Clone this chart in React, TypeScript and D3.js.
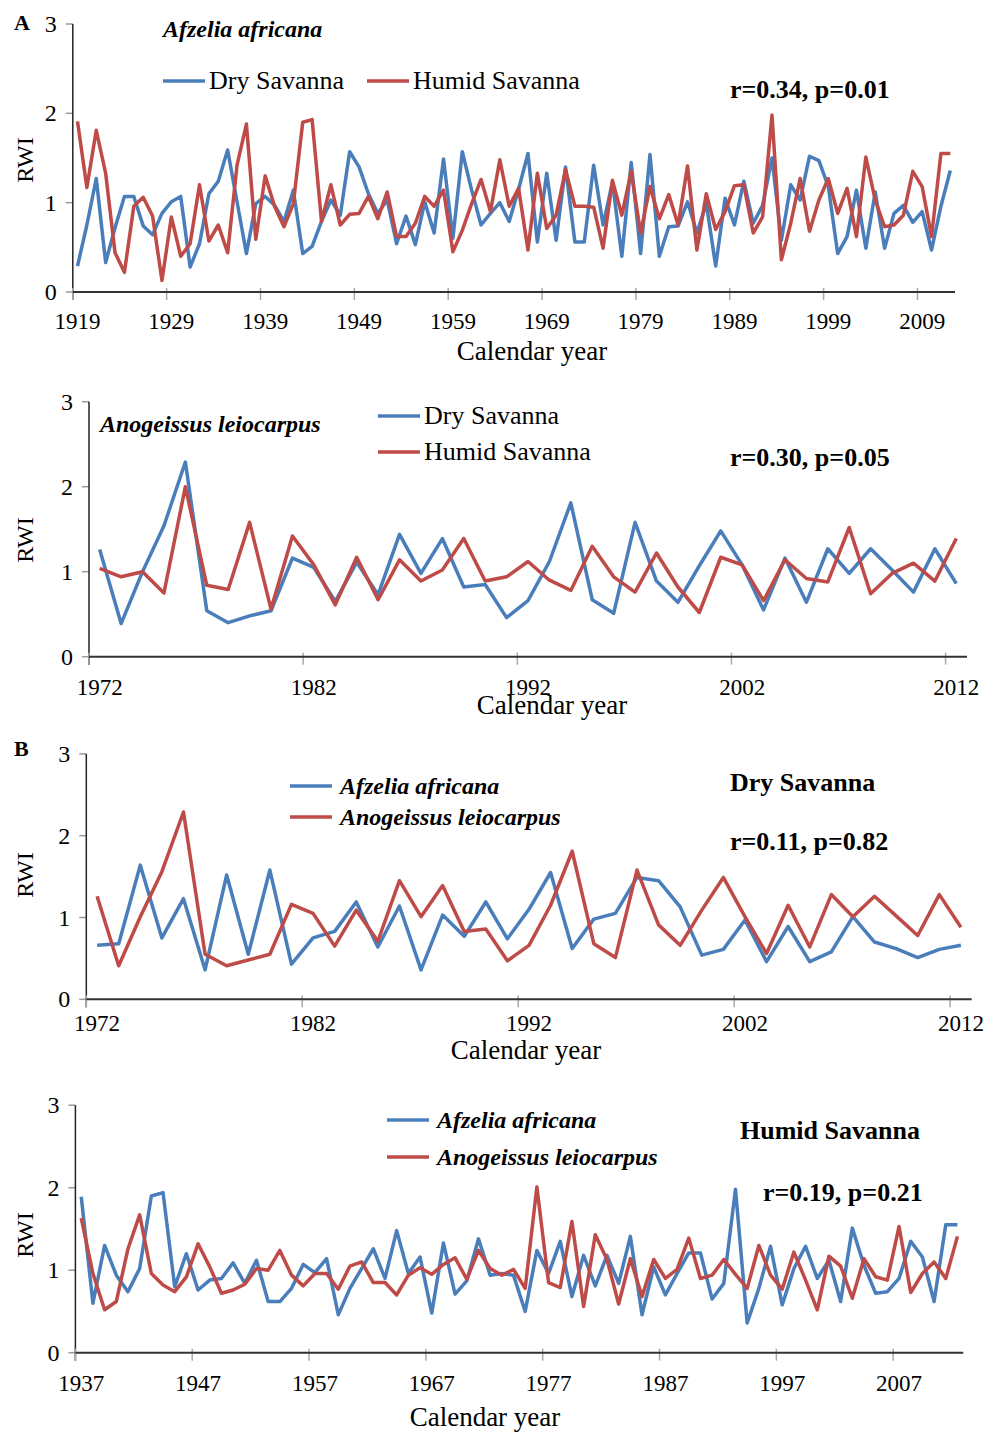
import * as d3 from "d3";

const blue = "#4a7ebb";
const red = "#be4b48";
const serif = "'Liberation Serif', 'Times New Roman', serif";

// A: Afzelia africana, 1919-2012
const afzDry1919 = [
  0.29, 0.75, 1.27, 0.33, 0.72, 1.07, 1.07, 0.74, 0.64, 0.88, 1.01, 1.07, 0.28, 0.54, 1.10, 1.24, 1.59, 1.01, 0.43, 0.99,
  1.07, 0.97, 0.79, 1.14, 0.43, 0.51, 0.79, 1.03, 0.86, 1.57, 1.40, 1.10, 0.88, 1.03, 0.54, 0.85, 0.53, 1.01, 0.66, 1.49,
  0.60, 1.57, 1.14, 0.75, 0.88, 1.00, 0.79, 1.15, 1.55, 0.56, 1.33, 0.58, 1.40, 0.56, 0.56, 1.42, 0.75, 1.23, 0.40, 1.45,
  0.43, 1.54, 0.40, 0.73, 0.74, 1.01, 0.66, 0.99, 0.29, 1.05, 0.75, 1.24, 0.77, 0.97, 1.50, 0.58, 1.20, 1.03, 1.52, 1.47,
  1.18, 0.43, 0.62, 1.14, 0.49, 1.12, 0.49, 0.88, 0.97, 0.78, 0.90, 0.47, 0.96, 1.36,
];
const afzHum1919 = [
  1.91, 1.17, 1.81, 1.33, 0.44, 0.22, 0.96, 1.06, 0.85, 0.13, 0.84, 0.40, 0.54, 1.20, 0.57, 0.75, 0.44, 1.42, 1.88, 0.59,
  1.30, 0.96, 0.73, 0.99, 1.90, 1.93, 0.79, 1.20, 0.75, 0.87, 0.88, 1.07, 0.82, 1.12, 0.62, 0.62, 0.77, 1.07, 0.96, 1.14,
  0.45, 0.69, 0.99, 1.26, 0.90, 1.48, 0.96, 1.16, 0.47, 1.33, 0.71, 0.86, 1.37, 0.96, 0.96, 0.95, 0.49, 1.25, 0.86, 1.35,
  0.66, 1.18, 0.82, 1.09, 0.75, 1.41, 0.47, 1.10, 0.70, 0.90, 1.19, 1.20, 0.66, 0.84, 1.98, 0.36, 0.77, 1.27, 0.68, 1.03,
  1.27, 0.88, 1.16, 0.62, 1.51, 1.03, 0.73, 0.75, 0.86, 1.35, 1.18, 0.62, 1.55, 1.55,
];

// A: Anogeissus leiocarpus, 1972-2012
const anoDry1972 = [
  1.26, 0.39, 1.00, 1.54, 2.29, 0.54, 0.40, 0.48, 0.54, 1.16, 1.05, 0.65, 1.11, 0.73, 1.44, 0.98, 1.39, 0.82, 0.85, 0.46,
  0.66, 1.12, 1.81, 0.67, 0.51, 1.58, 0.89, 0.64, 1.07, 1.48, 1.08, 0.55, 1.16, 0.64, 1.27, 0.98, 1.27, 1.02, 0.76, 1.27,
  0.86,
];
const anoHum1972 = [
  1.04, 0.94, 1.00, 0.75, 2.00, 0.84, 0.79, 1.58, 0.56, 1.42, 1.08, 0.61, 1.17, 0.67, 1.14, 0.89, 1.02, 1.39, 0.89, 0.94,
  1.12, 0.90, 0.78, 1.30, 0.94, 0.76, 1.22, 0.82, 0.52, 1.17, 1.08, 0.66, 1.14, 0.92, 0.88, 1.52, 0.74, 0.98, 1.10, 0.89,
  1.39,
];

// B: Dry Savanna, 1972-2012
const dryAfz1972 = [
  0.66, 0.68, 1.64, 0.75, 1.23, 0.36, 1.52, 0.55, 1.58, 0.43, 0.75, 0.83, 1.19, 0.64, 1.14, 0.36, 1.03, 0.77, 1.19, 0.74,
  1.10, 1.55, 0.62, 0.98, 1.05, 1.49, 1.45, 1.13, 0.54, 0.61, 0.97, 0.46, 0.89, 0.46, 0.58, 1.01, 0.70, 0.62, 0.51, 0.61,
  0.66,
];
const dryAno1972 = [
  1.26, 0.41, 1.01, 1.56, 2.29, 0.55, 0.41, 0.48, 0.55, 1.16, 1.05, 0.65, 1.09, 0.71, 1.45, 1.01, 1.39, 0.83, 0.86, 0.47,
  0.66, 1.15, 1.81, 0.68, 0.51, 1.58, 0.91, 0.66, 1.09, 1.49, 1.01, 0.56, 1.15, 0.64, 1.28, 1.01, 1.26, 1.02, 0.78, 1.28,
  0.88,
];

// B: Humid Savanna, 1937-2012
const humAfz1937 = [
  1.89, 0.60, 1.30, 0.94, 0.74, 1.02, 1.90, 1.94, 0.80, 1.20, 0.76, 0.88, 0.90, 1.09, 0.84, 1.12, 0.62, 0.62, 0.78, 1.07,
  0.97, 1.14, 0.46, 0.78, 1.02, 1.26, 0.90, 1.48, 0.96, 1.16, 0.48, 1.33, 0.71, 0.87, 1.38, 0.94, 0.96, 0.94, 0.50, 1.24,
  0.96, 1.35, 0.68, 1.18, 0.81, 1.18, 0.84, 1.41, 0.46, 1.04, 0.70, 0.96, 1.21, 1.21, 0.65, 0.84, 1.98, 0.36, 0.78, 1.29,
  0.58, 1.02, 1.29, 0.90, 1.12, 0.62, 1.51, 1.06, 0.72, 0.74, 0.90, 1.35, 1.16, 0.62, 1.55, 1.55,
];
const humAno1937 = [
  1.63, 0.96, 0.52, 0.62, 1.26, 1.67, 0.96, 0.82, 0.74, 0.92, 1.32, 1.04, 0.72, 0.76, 0.83, 1.02, 1.00, 1.24, 0.94, 0.81,
  0.96, 0.96, 0.77, 1.05, 1.10, 0.85, 0.85, 0.70, 0.94, 1.03, 0.95, 1.07, 1.15, 0.89, 1.24, 1.02, 0.94, 1.01, 0.78, 2.01,
  0.85, 0.79, 1.59, 0.56, 1.43, 1.13, 0.59, 1.14, 0.68, 1.13, 0.90, 1.01, 1.39, 0.90, 0.94, 1.13, 0.95, 0.78, 1.30, 0.94,
  0.77, 1.22, 0.88, 0.52, 1.17, 1.05, 0.66, 1.14, 0.92, 0.88, 1.53, 0.73, 0.96, 1.10, 0.90, 1.41,
];

function Panel({ start, blueVals, redVals, left, right, bottom, top, labelY, titleX, titleY, rwiY }) {
  const years = d3.range(start, start + blueVals.length);
  const x = d3.scaleBand().domain(years).range([left, right]).padding(0);
  const bw = x.bandwidth();
  const y = d3.scaleLinear().domain([0, 3]).range([bottom, top]);
  const line = d3.line().x((_, i) => x(years[i]) + bw / 2).y(d => y(d));
  const labelled = years.filter((_, i) => i % 10 === 0);

  return (
    <g fontFamily={serif} fill="#000">
      {y.ticks(3).map(t => (
        <g key={t}>
          <line x1={left - 7} x2={left} y1={y(t)} y2={y(t)} stroke="#999" strokeWidth={1.5} />
          <text x={left - 16} y={y(t) + 8} textAnchor="end" fontSize={24}>{t}</text>
        </g>
      ))}
      <line x1={left} x2={left} y1={y(3)} y2={y(0) + 8} stroke="#222" strokeWidth={1.5} />
      {labelled.map(yr => (
        <g key={yr}>
          <line x1={x(yr)} x2={x(yr)} y1={y(0) - 4} y2={y(0) + 8} stroke="#aaa" strokeWidth={1.5} />
          <text x={x(yr) + bw / 2} y={labelY} textAnchor="middle" fontSize={23}>{yr}</text>
        </g>
      ))}
      <line x1={left} x2={right} y1={y(0)} y2={y(0)} stroke="#333" strokeWidth={2} />
      <path d={line(blueVals)} fill="none" stroke={blue} strokeWidth={3.5} strokeLinejoin="round" />
      <path d={line(redVals)} fill="none" stroke={red} strokeWidth={3.5} strokeLinejoin="round" />
      <text x={titleX} y={titleY} textAnchor="middle" fontSize={27}>Calendar year</text>
      <text transform={`translate(33, ${rwiY}) rotate(-90)`} textAnchor="middle" fontSize={24}>RWI</text>
    </g>
  );
}

function LegendItem({ x, y, color, label, italic }) {
  return (
    <g>
      <line x1={x} x2={x + 42} y1={y} y2={y} stroke={color} strokeWidth={3.5} />
      <text
        x={x + (italic ? 50 : 46)}
        y={y + 8}
        fontSize={italic ? 24 : 26}
        fontStyle={italic ? "italic" : "normal"}
        fontWeight={italic ? "bold" : "normal"}
      >
        {label}
      </text>
    </g>
  );
}

export default function App() {
  return (
    <svg
      width={1000}
      height={1433}
      style={{ position: "absolute", left: 0, top: 0, background: "#fff" }}
      fontFamily={serif}
    >
      <rect width={1000} height={1433} fill="#fff" />

      {/* A, top */}
      <text x={14} y={30} fontSize={22} fontWeight="bold">A</text>
      <Panel start={1919} blueVals={afzDry1919} redVals={afzHum1919}
        left={72.8} right={955} bottom={292} top={24} labelY={329} titleX={532} titleY={360} rwiY={160} />
      <text x={163} y={37} fontSize={24} fontWeight="bold" fontStyle="italic">Afzelia africana</text>
      <LegendItem x={163} y={81} color={blue} label="Dry Savanna" />
      <LegendItem x={367} y={81} color={red} label="Humid Savanna" />
      <text x={730} y={98} fontSize={26} fontWeight="bold">r=0.34, p=0.01</text>

      {/* A, bottom */}
      <Panel start={1972} blueVals={anoDry1972} redVals={anoHum1972}
        left={89} right={967} bottom={656.7} top={401.7} labelY={695} titleX={552} titleY={714} rwiY={540} />
      <text x={100} y={432} fontSize={24} fontWeight="bold" fontStyle="italic">Anogeissus leiocarpus</text>
      <LegendItem x={378} y={416} color={blue} label="Dry Savanna" />
      <LegendItem x={378} y={452} color={red} label="Humid Savanna" />
      <text x={730} y={466} fontSize={26} fontWeight="bold">r=0.30, p=0.05</text>

      {/* B, top */}
      <text x={14} y={756} fontSize={22} fontWeight="bold">B</text>
      <Panel start={1972} blueVals={dryAfz1972} redVals={dryAno1972}
        left={86.3} right={971.7} bottom={999.3} top={753.9} labelY={1031} titleX={526} titleY={1059} rwiY={875} />
      <LegendItem x={290} y={786} color={blue} label="Afzelia africana" italic />
      <LegendItem x={290} y={817} color={red} label="Anogeissus leiocarpus" italic />
      <text x={730} y={791} fontSize={26} fontWeight="bold">Dry Savanna</text>
      <text x={730} y={850} fontSize={26} fontWeight="bold">r=0.11, p=0.82</text>

      {/* B, bottom */}
      <Panel start={1937} blueVals={humAfz1937} redVals={humAno1937}
        left={75.4} right={963.3} bottom={1352.7} top={1105.2} labelY={1391} titleX={485} titleY={1426} rwiY={1235} />
      <LegendItem x={387} y={1120} color={blue} label="Afzelia africana" italic />
      <LegendItem x={387} y={1157} color={red} label="Anogeissus leiocarpus" italic />
      <text x={740} y={1139} fontSize={26} fontWeight="bold">Humid Savanna</text>
      <text x={763} y={1201} fontSize={26} fontWeight="bold">r=0.19, p=0.21</text>
    </svg>
  );
}
